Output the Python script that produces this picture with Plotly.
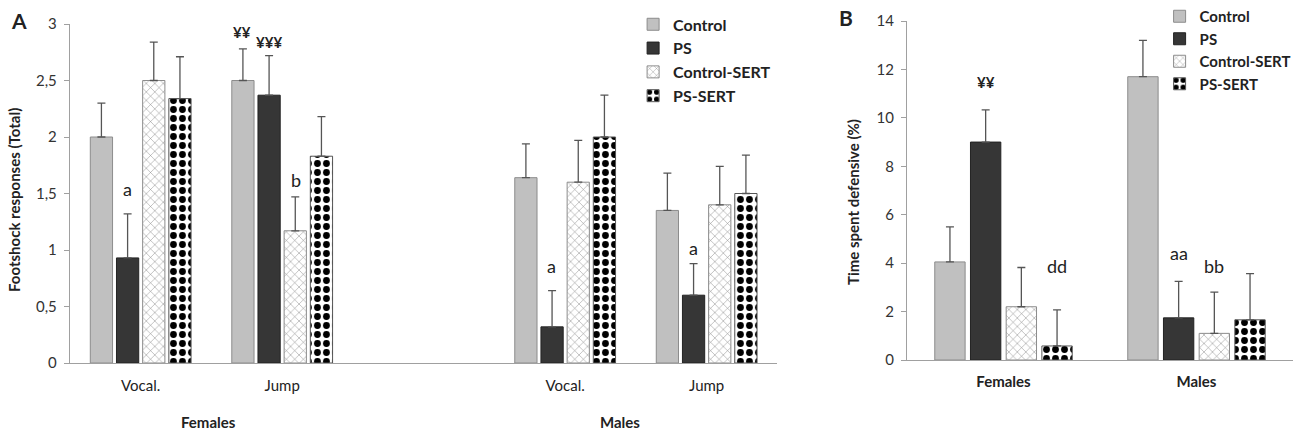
import plotly.graph_objects as go

# panel A: footshock responses, categories (with an empty slot between sexes)
cats_a = ["F-Vocal", "F-Jump", "gap", "M-Vocal", "M-Jump"]
ticks_a = ["Vocal.", "Jump", "", "Vocal.", "Jump"]
ctrl_a = [2.0, 2.5, None, 1.64, 1.35]
ps_a = [0.93, 2.37, None, 0.32, 0.60]
csert_a = [2.5, 1.17, None, 1.60, 1.40]
pssert_a = [2.34, 1.83, None, 2.0, 1.50]
ctrl_a_err = [0.30, 0.28, 0, 0.30, 0.33]
ps_a_err = [0.39, 0.35, 0, 0.32, 0.28]
csert_a_err = [0.34, 0.30, 0, 0.37, 0.34]
pssert_a_err = [0.37, 0.35, 0, 0.37, 0.34]

# panel B: time spent defensive
cats_b = ["Females", "Males"]
ctrl_b = [4.05, 11.7]
ps_b = [9.0, 1.74]
csert_b = [2.2, 1.1]
pssert_b = [0.58, 1.66]
ctrl_b_err = [1.45, 1.5]
ps_b_err = [1.33, 1.51]
csert_b_err = [1.62, 1.7]
pssert_b_err = [1.49, 1.91]

names = ["Control", "PS", "Control-SERT", "PS-SERT"]
FONT = "Lato"

styles = [
    dict(color="#c0c0c0", line=dict(color="#8c8c8c", width=1)),
    dict(color="#363636", line=dict(color="#222222", width=1)),
    dict(color="white", line=dict(color="#8c8c8c", width=1),
         pattern=dict(shape="x", fgcolor="#808080", bgcolor="white", size=6, solidity=0.15,
                      fillmode="replace", fgopacity=1)),
    dict(color="white", line=dict(color="#555555", width=1),
         pattern=dict(shape=".", fgcolor="#000000", bgcolor="white", size=9, solidity=0.45,
                      fillmode="replace", fgopacity=1)),
]

fig = go.Figure()

series_a = [(ctrl_a, ctrl_a_err), (ps_a, ps_a_err), (csert_a, csert_a_err), (pssert_a, pssert_a_err)]
for name, (vals, errs), st in zip(names, series_a, styles):
    fig.add_trace(go.Bar(
        x=cats_a, y=vals, name=name, marker=st, xaxis="x", yaxis="y", legend="legend",
        error_y=dict(type="data", symmetric=False, array=errs, arrayminus=[0] * len(errs),
                     color="#555555", thickness=1.3, width=4),
    ))

series_b = [(ctrl_b, ctrl_b_err), (ps_b, ps_b_err), (csert_b, csert_b_err), (pssert_b, pssert_b_err)]
for name, (vals, errs), st in zip(names, series_b, styles):
    fig.add_trace(go.Bar(
        x=cats_b, y=vals, name=name, marker=st, xaxis="x2", yaxis="y2", legend="legend2",
        error_y=dict(type="data", symmetric=False, array=errs, arrayminus=[0] * len(errs),
                     color="#555555", thickness=1.3, width=4),
    ))

axis_common = dict(showgrid=False, zeroline=False, showline=True, linecolor="#a0a0a0",
                   linewidth=1.3, automargin=False)

fig.update_layout(
    width=1300, height=434,
    margin=dict(l=0, r=0, t=0, b=0, autoexpand=False),
    paper_bgcolor="white", plot_bgcolor="white",
    font=dict(family=FONT, size=15, color="#222222"),
    barmode="group", bargap=0.26, bargroupgap=0.15,
    xaxis=dict(domain=[0.0538, 0.598], type="category", categoryorder="array",
               categoryarray=cats_a, tickvals=cats_a, ticktext=ticks_a,
               range=[-0.5, 4.5], ticks="", ticklabelstandoff=9,
               tickfont=dict(size=15, color="#222"), **axis_common),
    yaxis=dict(domain=[0.1636, 0.9447], range=[0, 3], tickvals=[0, 0.5, 1, 1.5, 2, 2.5, 3],
               ticktext=["0", "0,5", "1", "1,5", "2", "2,5", "3"], ticks="outside",
               ticklen=5, tickcolor="#a0a0a0", ticklabelstandoff=4,
               tickfont=dict(size=15, color="#333"), **axis_common),
    xaxis2=dict(domain=[0.6977, 0.9946], anchor="y2", type="category", ticks="",
                range=[-0.5, 1.5], ticklabelstandoff=8,
                tickfont=dict(size=15, color="#222", weight="bold"), **axis_common),
    yaxis2=dict(domain=[0.1705, 0.9516], anchor="x2", range=[0, 14], dtick=2,
                ticks="outside", ticklen=5, tickcolor="#a0a0a0", ticklabelstandoff=4,
                tickfont=dict(size=15, color="#333"), **axis_common),
    legend=dict(x=0.487, y=0.983, xanchor="left", yanchor="top", bgcolor="rgba(0,0,0,0)",
                font=dict(size=16, weight="bold", color="#222"), itemclick=False),
    legend2=dict(x=0.892, y=1.0, xanchor="left", yanchor="top", bgcolor="rgba(0,0,0,0)",
                 font=dict(size=15, weight="bold", color="#222"), itemclick=False),
)

notes = [
    # panel letters, axis titles, group labels
    dict(text="<b>A</b>", x=9 / 1300, y=1 - 20 / 434, xanchor="left", font=dict(size=21)),
    dict(text="<b>B</b>", x=837 / 1300, y=1 - 17 / 434, xanchor="left", font=dict(size=21)),
    dict(text="<b>Footshock responses (Total)</b>", x=14 / 1300, y=1 - 200 / 434,
         textangle=-90, font=dict(size=15)),
    dict(text="<b>Time spent defensive (%)</b>", x=853 / 1300, y=1 - 202 / 434,
         textangle=-90, font=dict(size=15)),
    dict(text="<b>Females</b>", x=208 / 1300, y=1 - 422 / 434),
    dict(text="<b>Males</b>", x=620 / 1300, y=1 - 422 / 434),
]
for n in notes:
    fig.add_annotation(showarrow=False, xref="paper", yref="paper", yanchor="middle",
                       **{"xanchor": "center", **n})

# significance marks
marks = [
    ("a", "x", "y", "F-Vocal", 1.54, -13.5, 18),
    ("<b>¥¥</b>", "x", "y", "F-Jump", 2.93, -40.5, 15),
    ("<b>¥¥¥</b>", "x", "y", "F-Jump", 2.84, -13.5, 15),
    ("b", "x", "y", "F-Jump", 1.62, 13.5, 18),
    ("a", "x", "y", "M-Vocal", 0.86, -13.5, 18),
    ("a", "x", "y", "M-Jump", 1.02, -13.5, 18),
    ("<b>¥¥</b>", "x2", "y2", "Females", 11.5, -17.8, 15),
    ("dd", "x2", "y2", "Females", 3.9, 53.5, 18),
    ("aa", "x2", "y2", "Males", 4.4, -17.8, 18),
    ("bb", "x2", "y2", "Males", 3.9, 17.8, 18),
]
for txt, xr, yr, xc, yv, shift, size in marks:
    fig.add_annotation(text=txt, x=xc, y=yv, xref=xr, yref=yr, xshift=shift,
                       showarrow=False, xanchor="center", yanchor="middle",
                       font=dict(size=size, color="#222"))

fig.write_html("out.html", config={"displayModeBar": False},
               post_script="document.body.style.margin='0px';document.body.style.overflow='hidden';")
